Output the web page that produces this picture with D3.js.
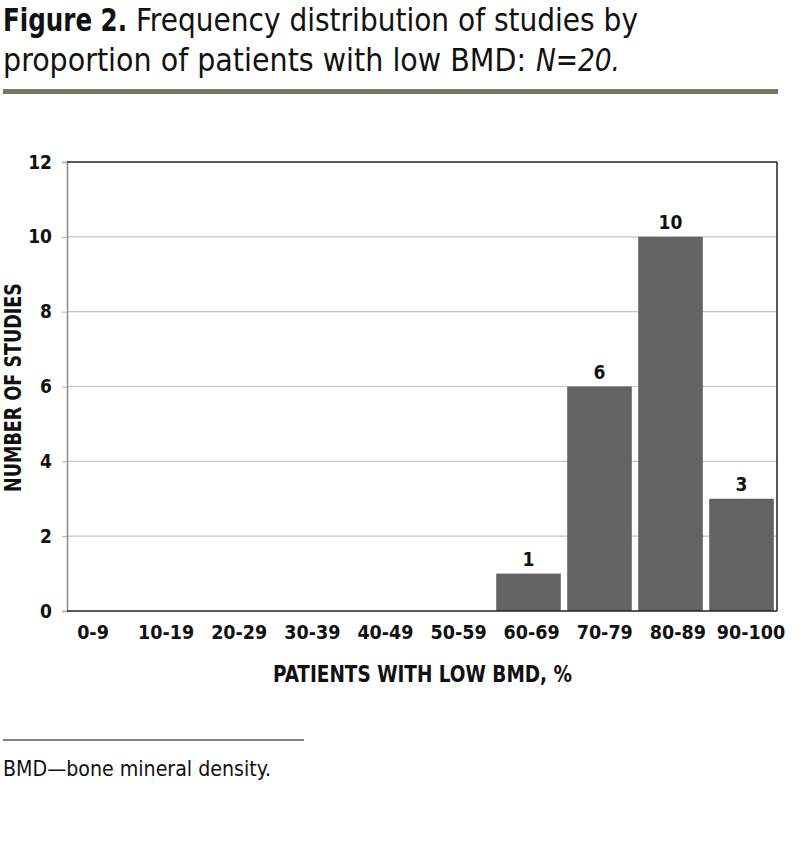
<!DOCTYPE html>
<html><head><meta charset="utf-8">
<script src="https://cdn.jsdelivr.net/npm/d3@7/dist/d3.min.js"></script>
<style>
body{margin:0;background:#fff;}
svg{display:block;}
text{font-family:"DejaVu Sans Condensed","DejaVu Sans",sans-serif;fill:#111;}
</style></head>
<body>
<svg id="c" width="801" height="843"></svg>
<script>
const categories = ["0-9","10-19","20-29","30-39","40-49","50-59","60-69","70-79","80-89","90-100"];
const studies = [0,0,0,0,0,0,1,6,10,3];
const yTicks = [0,2,4,6,8,10,12];

const svg = d3.select("#c");
const mLeft = 67, mRight = 777, mTop = 162, mBottom = 611;

// Title (each run as its own text element)
function titleRun(txt, xPos, yPos, len, opts) {
  const t = svg.append("text").attr("x",xPos).attr("y",yPos).style("font-size","32px")
    .attr("textLength",len).attr("lengthAdjust","spacingAndGlyphs").text(txt);
  if (opts && opts.bold) t.attr("font-weight","bold");
  if (opts && opts.italic) t.attr("font-style","italic");
  return t;
}
titleRun("Figure 2.", 3, 31, 124, {bold:true});
titleRun("Frequency distribution of studies by", 136, 31, 502);
titleRun("proportion of patients with low BMD:", 3, 71, 523);
titleRun("N=20.", 536, 71, 84, {italic:true});
svg.append("rect").attr("x",3).attr("y",89).attr("width",775).attr("height",5).attr("fill","#7a7461");

const x = d3.scaleBand().domain(categories).range([mLeft,mRight]).paddingInner(0.09).paddingOuter(0.045);
const xLabel = d3.scalePoint().domain(categories).range([93,751]);
const y = d3.scaleLinear().domain([0,12]).range([mBottom,mTop]);

// gridlines
svg.append("g").selectAll("line").data(yTicks.filter(d=>d>0 && d<12)).join("line")
  .attr("x1",mLeft).attr("x2",mRight).attr("y1",d=>y(d)).attr("y2",d=>y(d))
  .attr("stroke","#c4c4c4").attr("stroke-width",1.2);

// y axis
const ya = svg.append("g").attr("transform",`translate(${mLeft},0)`)
  .call(d3.axisLeft(y).tickValues(yTicks).tickSize(5).tickPadding(10));
ya.select(".domain").attr("stroke","#8a8a8a").attr("stroke-width",1.5);
ya.selectAll(".tick line").attr("stroke","#b0b0b0");
ya.selectAll(".tick text").style("font-size","19px").attr("font-weight","bold")
  .style("font-family","'DejaVu Sans Condensed',sans-serif").attr("fill","#111");

// frame top/right
svg.append("line").attr("x1",mLeft).attr("x2",mRight).attr("y1",mTop).attr("y2",mTop).attr("stroke","#222").attr("stroke-width",1.5);
svg.append("line").attr("x1",mRight).attr("x2",mRight).attr("y1",mTop).attr("y2",mBottom).attr("stroke","#222").attr("stroke-width",1.5);

const barData = categories.map((c,i)=>({c,v:studies[i]})).filter(d=>d.v>0);
// bars
svg.append("g").selectAll("rect").data(barData).join("rect")
  .attr("x",d=>x(d.c)).attr("width",x.bandwidth())
  .attr("y",d=>y(d.v)).attr("height",d=>y(0)-y(d.v)).attr("fill","#636363");

svg.append("line").attr("x1",mLeft).attr("x2",mRight).attr("y1",mBottom).attr("y2",mBottom).attr("stroke","#222").attr("stroke-width",1.5);

// value labels
svg.append("g").selectAll("text").data(barData).join("text")
  .attr("x",d=>x(d.c)+x.bandwidth()/2).attr("y",d=>y(d.v)-8).attr("text-anchor","middle")
  .style("font-size","19px").attr("font-weight","bold")
  .text(d=>d.v);

// x axis labels
svg.append("g").selectAll("text").data(categories).join("text")
  .attr("x",d=>xLabel(d)).attr("y",639).attr("text-anchor","middle")
  .style("font-size","19.5px").attr("font-weight","bold").text(d=>d);

// axis titles
svg.append("text").attr("x",273).attr("y",682)
  .style("font-size","23px").attr("font-weight","bold")
  .attr("textLength",299).attr("lengthAdjust","spacingAndGlyphs")
  .text("PATIENTS WITH LOW BMD, %");
svg.append("text").attr("transform","translate(21,492) rotate(-90)")
  .style("font-size","23px").attr("font-weight","bold")
  .attr("textLength",209).attr("lengthAdjust","spacingAndGlyphs")
  .text("NUMBER OF STUDIES");

// footnote
svg.append("line").attr("x1",3).attr("x2",304).attr("y1",740).attr("y2",740).attr("stroke","#555").attr("stroke-width",1.5);
svg.append("text").attr("x",3).attr("y",776).style("font-size","21px")
  .attr("textLength",268).attr("lengthAdjust","spacingAndGlyphs")
  .text("BMD\u2014bone mineral density.");
</script>
</body></html>
